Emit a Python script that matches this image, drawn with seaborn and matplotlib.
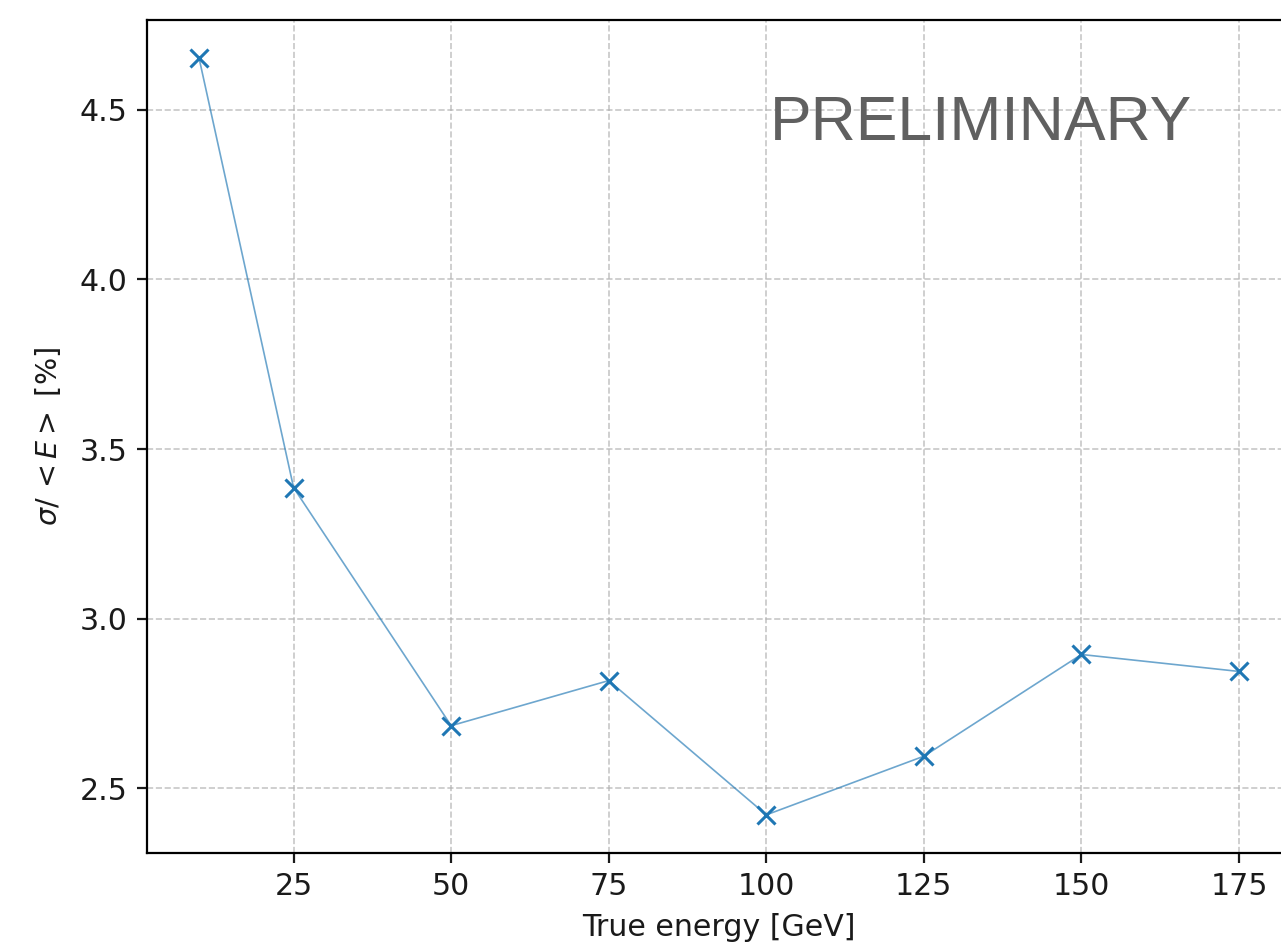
import matplotlib
matplotlib.use("Agg")
import matplotlib.pyplot as plt
import seaborn as sns
import pandas as pd

true_energy = [10, 25, 50, 75, 100, 125, 150, 175]
resolution_pct = [4.653, 3.386, 2.684, 2.817, 2.421, 2.594, 2.894, 2.844]

df = pd.DataFrame({"energy": true_energy, "resolution": resolution_pct})

sns.set_style("ticks")
plt.rcParams["font.family"] = ["DejaVu Sans"]
plt.rcParams["font.size"] = 10.8

fig = plt.figure(figsize=(6.405, 4.75), dpi=200)
ax = fig.add_axes([0.1148, 0.1021, 0.893, 0.8769])

color = "#1f77b4"
sns.lineplot(data=df, x="energy", y="resolution", ax=ax, color=color,
             linewidth=0.6, alpha=0.65)
ax.plot(df["energy"], df["resolution"], linestyle="none", marker="x",
        color=color, markersize=6.5, markeredgewidth=1.1)

ax.set_xticks([25, 50, 75, 100, 125, 150, 175])
ax.set_yticks([2.5, 3.0, 3.5, 4.0, 4.5])
ax.set_xlim(1.75, 183.25)
ax.set_ylim(2.3085, 4.7655)
ax.grid(True, linestyle="--", color="#b0b0b0", linewidth=0.6, alpha=0.7)
ax.tick_params(axis="both", labelsize=10.8, length=3.5, width=0.8, colors="#1a1a1a")
for s in ax.spines.values():
    s.set_linewidth(0.8)
    s.set_color("black")

ax.set_xlabel("True energy [GeV]", fontsize=10.8, color="#1a1a1a", labelpad=4)
ax.set_ylabel(r"$\sigma/\,<E>$ [%]", fontsize=10.3, color="#1a1a1a", labelpad=6)

fig.text(770 / 1281, (950 - 140) / 950, "PRELIMINARY",
         family=["Liberation Sans", "DejaVu Sans"], fontsize=22.5,
         color="#606060", ha="left", va="baseline")

fig.savefig("out.png", dpi=200)
